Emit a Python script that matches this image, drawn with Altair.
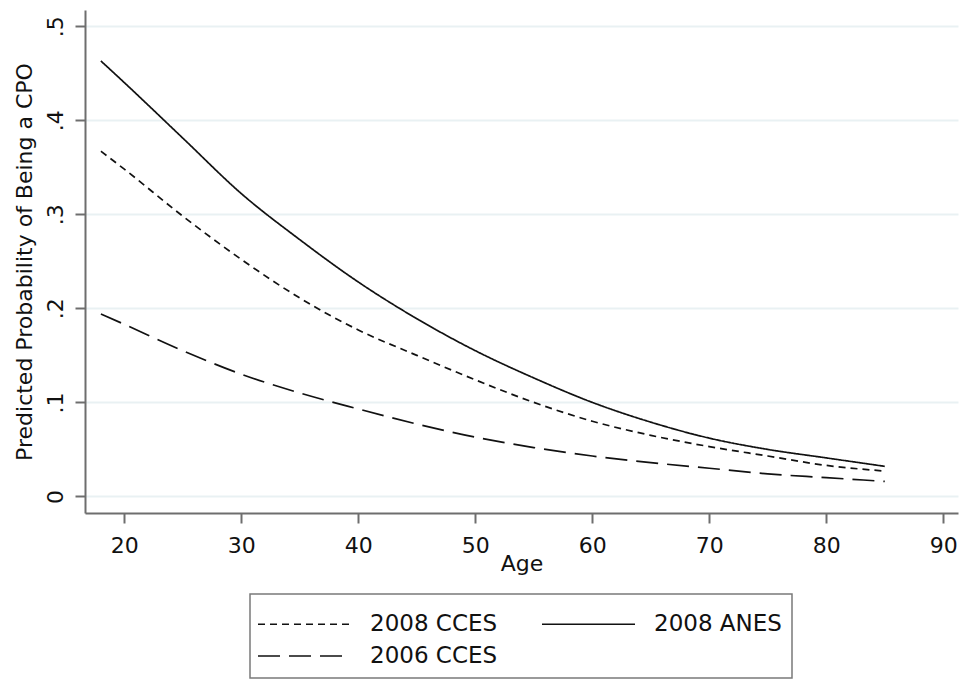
import altair as alt
import pandas as pd

ages = [18, 20, 25, 30, 35, 40, 45, 50, 55, 60, 65, 70, 75, 80, 85]
anes_2008 = [0.463, 0.440, 0.381, 0.322, 0.273, 0.228, 0.189, 0.155, 0.126, 0.100, 0.079, 0.062, 0.050, 0.041, 0.032]
cces_2008 = [0.367, 0.348, 0.298, 0.252, 0.211, 0.177, 0.150, 0.124, 0.100, 0.080, 0.065, 0.053, 0.043, 0.033, 0.027]
cces_2006 = [0.194, 0.183, 0.155, 0.130, 0.110, 0.093, 0.077, 0.063, 0.052, 0.043, 0.036, 0.030, 0.024, 0.020, 0.016]

series_names = ["2008 CCES", "2008 ANES", "2006 CCES"]
x_ticks = [20, 30, 40, 50, 60, 70, 80, 90]
y_ticks = [0, 0.1, 0.2, 0.3, 0.4, 0.5]

rows = []
for name, vals in zip(series_names, [cces_2008, anes_2008, cces_2006]):
    for a, v in zip(ages, vals):
        rows.append({"Age": a, "Prob": v, "Series": name})
df = pd.DataFrame(rows)

FONT = "DejaVu Sans"

chart = alt.Chart(df).mark_line(strokeWidth=1.7, color="#111111", interpolate="monotone").encode(
    x=alt.X("Age:Q",
            scale=alt.Scale(domain=[16.64, 91.26], nice=False, zero=False),
            axis=alt.Axis(values=x_ticks, title="Age", grid=False,
                          tickSize=10, tickWidth=2, tickColor="#6e6e6e",
                          domainColor="#6e6e6e", domainWidth=2,
                          labelFontSize=22, labelFont=FONT, labelColor="#111111",
                          labelBaseline="alphabetic", labelPadding=29,
                          titleFontSize=22, titleFont=FONT, titleFontWeight="normal",
                          titleColor="#111111", titleBaseline="alphabetic",
                          titleY=57, titleX=436.5)),
    y=alt.Y("Prob:Q",
            scale=alt.Scale(domain=[-0.0176, 0.5172], nice=False, zero=False),
            axis=alt.Axis(values=y_ticks, title="Predicted Probability of Being a CPO",
                          labelExpr="datum.value == 0 ? '0' : '.' + format(datum.value * 10, '.0f')",
                          grid=True, gridColor="#e9f1f3", gridWidth=2,
                          tickSize=10, tickWidth=2, tickColor="#6e6e6e",
                          domainColor="#6e6e6e", domainWidth=2,
                          labelAngle=270, labelAlign="center", labelBaseline="alphabetic",
                          labelPadding=13,
                          labelFontSize=22, labelFont=FONT, labelColor="#111111",
                          titleFontSize=22, titleFont=FONT, titleFontWeight="normal",
                          titleColor="#111111", titleAngle=270, titleAlign="center",
                          titleBaseline="alphabetic", titleX=-53.5, titleY=251.5)),
    strokeDash=alt.StrokeDash("Series:N",
                              scale=alt.Scale(domain=series_names,
                                              range=[[7, 5], [1, 0], [22, 9]]),
                              legend=alt.Legend(
                                  title=" ", titleFontSize=4, titlePadding=4.5,
                                  orient="none", legendX=165, legendY=584,
                                  columns=2, direction="horizontal",
                                  symbolType="M-9.3,0H9.3", symbolSize=100,
                                  symbolOffset=33,
                                  symbolStrokeWidth=1.7, symbolStrokeColor="#111111",
                                  labelFontSize=23, labelFont=FONT, labelColor="#111111",
                                  labelOffset=54, columnPadding=40, rowPadding=8,
                                  padding=10, strokeColor="#7a7a7a",
                                  labelLimit=300)),
).properties(
    width=873, height=503,
    autosize=alt.AutoSizeParams(type="none"),
    padding={"left": 85, "top": 10, "right": 5, "bottom": 166},
).configure_view(stroke=None).configure_legend(strokeWidth=1.5)

chart.save("out.html", embed_options={"renderer": "svg", "actions": False})
